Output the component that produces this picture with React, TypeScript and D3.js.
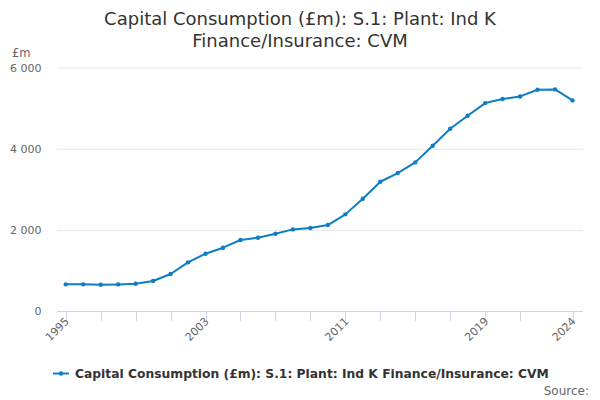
import { useEffect, useRef } from 'react';
import * as d3 from 'd3';

const years = [
  1995, 1996, 1997, 1998, 1999, 2000, 2001, 2002, 2003, 2004, 2005, 2006, 2007, 2008, 2009,
  2010, 2011, 2012, 2013, 2014, 2015, 2016, 2017, 2018, 2019, 2020, 2021, 2022, 2023, 2024,
];
const values = [
  657, 657, 645, 655, 670, 739, 911, 1199, 1412, 1560, 1749, 1806, 1905, 2011, 2044,
  2118, 2381, 2767, 3185, 3399, 3662, 4072, 4491, 4811, 5123, 5222, 5287, 5451, 5460, 5189,
];
const yTicks = [0, 2000, 4000, 6000];
const xTickMarks = [1995, 1997, 1999, 2001, 2003, 2005, 2007, 2009, 2011, 2013, 2015, 2017, 2019, 2021, 2024];
const xTickLabels = [1995, 2003, 2011, 2019, 2024];
const titleLines = ['Capital Consumption (£m): S.1: Plant: Ind K', 'Finance/Insurance: CVM'];
const seriesName = 'Capital Consumption (£m): S.1: Plant: Ind K Finance/Insurance: CVM';

const COLOR = '#0f7dc2';
const FONT = '"DejaVu Sans", sans-serif';

export default function App() {
  const svgRef = useRef<SVGSVGElement>(null);

  useEffect(() => {
    const svg = svgRef.current;
    if (!svg) return;
    const sel = d3.select(svg);
    sel.selectAll('*').remove();

    const x = d3.scaleLinear().domain([1994.5, 2024.6]).range([57, 583]);
    const y = d3.scaleLinear().domain([0, 6000]).range([311, 67.5]);

    // title
    sel.append('text')
      .attr('x', 300)
      .attr('text-anchor', 'middle')
      .attr('font-size', '18px')
      .attr('fill', '#333333')
      .selectAll('tspan')
      .data(titleLines)
      .join('tspan')
      .attr('x', 300)
      .attr('y', (_, i) => 25 + i * 22)
      .text((d) => d);

    // grid
    sel.selectAll('.grid')
      .data(yTicks.filter((d) => d > 0))
      .join('line')
      .attr('x1', 57)
      .attr('x2', 583)
      .attr('y1', (d) => y(d) + 0.5)
      .attr('y2', (d) => y(d) + 0.5)
      .attr('stroke', '#e6e6e6');

    // y labels
    sel.selectAll('.ylab')
      .data(yTicks)
      .join('text')
      .attr('x', 41.5)
      .attr('y', (d) => y(d) + 4)
      .attr('text-anchor', 'end')
      .attr('font-size', '11px')
      .attr('fill', '#666666')
      .text((d) => d3.format(',')(d).replace(/,/g, ' '));

    sel.append('text')
      .attr('x', 12)
      .attr('y', 57)
      .attr('font-size', '11.5px')
      .attr('fill', '#666666')
      .text('£m');

    // x axis
    sel.append('line')
      .attr('x1', 57)
      .attr('x2', 583)
      .attr('y1', 311.5)
      .attr('y2', 311.5)
      .attr('stroke', '#ccd6eb');
    sel.selectAll('.xtick')
      .data(xTickMarks)
      .join('line')
      .attr('x1', (d) => Math.round(x(d)) + 0.5)
      .attr('x2', (d) => Math.round(x(d)) + 0.5)
      .attr('y1', 311)
      .attr('y2', 321)
      .attr('stroke', '#ccd6eb');
    sel.selectAll('.xlab')
      .data(xTickLabels)
      .join('text')
      .attr('transform', (d) => `translate(${x(d) + 4},${322}) rotate(-45)`)
      .attr('text-anchor', 'end')
      .attr('font-size', '11px')
      .attr('fill', '#666666')
      .text((d) => String(d));

    // series
    const line = d3.line<number>()
      .x((_, i) => x(years[i]))
      .y((d) => y(d));
    sel.append('path')
      .datum(values)
      .attr('d', line)
      .attr('fill', 'none')
      .attr('stroke', COLOR)
      .attr('stroke-width', 2)
      .attr('stroke-linejoin', 'round');
    sel.selectAll('.dot')
      .data(values)
      .join('circle')
      .attr('cx', (_, i) => x(years[i]))
      .attr('cy', (d) => y(d))
      .attr('r', 2.2)
      .attr('fill', COLOR);

    // legend
    sel.append('line')
      .attr('x1', 53)
      .attr('x2', 69)
      .attr('y1', 373.5)
      .attr('y2', 373.5)
      .attr('stroke', COLOR)
      .attr('stroke-width', 2);
    sel.append('circle')
      .attr('cx', 61)
      .attr('cy', 373.5)
      .attr('r', 2.2)
      .attr('fill', COLOR);
    sel.append('text')
      .attr('x', 75)
      .attr('y', 378)
      .attr('font-size', '12.3px')
      .attr('font-weight', 'bold')
      .attr('fill', '#333333')
      .text(seriesName);

    sel.append('text')
      .attr('x', 589)
      .attr('y', 395)
      .attr('text-anchor', 'end')
      .attr('font-size', '12px')
      .attr('fill', '#666666')
      .text('Source:');
  }, []);

  return (
    <svg
      ref={svgRef}
      width={600}
      height={400}
      style={{ position: 'absolute', left: 0, top: 0, fontFamily: FONT, background: '#ffffff' }}
    />
  );
}
